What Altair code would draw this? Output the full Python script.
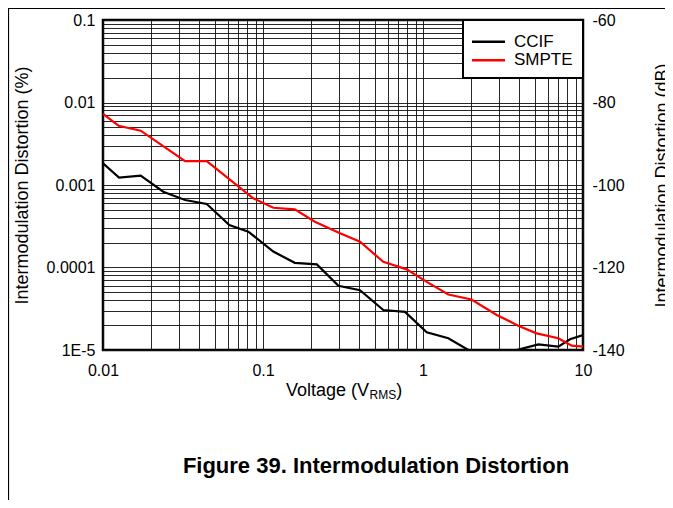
import altair as alt
import pandas as pd

# ---- data ----
series_names = ["CCIF", "SMPTE"]
series_colors = ["#000000", "#ff0000"]

ccif_v = [0.01, 0.0126, 0.0172, 0.0238, 0.0326, 0.0445, 0.0616, 0.081, 0.116, 0.158,
          0.217, 0.296, 0.404, 0.565, 0.772, 1.055, 1.44, 1.92, 2.5, 3.2, 3.85,
          5.26, 7.01, 8.3, 10]
ccif_d = [0.00183, 0.00123, 0.0013, 0.00083, 0.000658, 0.000589, 0.000327, 0.000272,
          0.000156, 0.000114, 0.000109, 6.0e-5, 5.3e-5, 3.05e-5, 2.9e-5, 1.64e-5,
          1.39e-5, 1.0e-5, 8.5e-6, 8.5e-6, 1.0e-5, 1.17e-5, 1.1e-5, 1.35e-5, 1.52e-5]

smpte_v = [0.01, 0.0125, 0.0172, 0.0326, 0.0445, 0.0869, 0.116, 0.158, 0.211, 0.303,
           0.404, 0.565, 0.79, 1.055, 1.44, 2.01, 2.89, 3.94, 5.13, 7.01, 8.5, 10]
smpte_d = [0.00726, 0.00523, 0.00455, 0.00195, 0.00195, 0.00069, 0.00053, 0.000507,
           0.000359, 0.00026, 0.000205, 0.000117, 0.000095, 6.7e-5, 4.7e-5, 4.1e-5,
           2.66e-5, 1.97e-5, 1.59e-5, 1.39e-5, 1.13e-5, 1.1e-5]

x_domain = [0.01, 10]
y_domain = [1e-5, 0.1]
db_domain = [-140, -60]
db_ticks = [-140, -120, -100, -80, -60]
x_grid = [k * 10.0 ** e for e in (-2, -1, 0) for k in range(1, 10)] + [10]
y_grid = [k * 10.0 ** e for e in (-5, -4, -3, -2) for k in range(1, 10)] + [0.1]

x_title_main = "Voltage (V"
x_title_sub = "RMS"
x_title_end = ")"
y_title_left = "Intermodulation Distortion (%)"
y_title_right = "Intermodulation Distortion (dB)"
caption = "Figure 39. Intermodulation Distortion"

df = pd.concat([
    pd.DataFrame({"voltage": ccif_v, "imd": ccif_d, "series": series_names[0]}),
    pd.DataFrame({"voltage": smpte_v, "imd": smpte_d, "series": series_names[1]}),
], ignore_index=True)
one = pd.DataFrame({"a": [0]})

FONT = "Liberation Sans"
decade = "abs(log(datum.value)/LN10 - round(log(datum.value)/LN10)) < 0.001"

x_enc = alt.X(
    "voltage:Q",
    scale=alt.Scale(type="log", domain=x_domain, nice=False),
    axis=alt.Axis(values=x_grid, labelExpr=f"{decade} ? format(datum.value, '~g') : ''",
                  title=None, grid=True, ticks=False, domain=False, labelPadding=12,
                  labelFlush=False, labelOverlap=False),
)

lines = alt.Chart(df).mark_line(clip=True, strokeWidth=2.2).encode(
    x=x_enc,
    y=alt.Y(
        "imd:Q",
        scale=alt.Scale(type="log", domain=y_domain, nice=False),
        axis=alt.Axis(values=y_grid,
                      labelExpr=f"datum.value < 2e-5 ? '1E-5' : ({decade} ? format(datum.value, '~g') : '')",
                      title=y_title_left, grid=True, ticks=False, domain=False,
                      labelPadding=8, labelFlush=False, labelOverlap=False,
                      titlePadding=15),
    ),
    color=alt.Color("series:N", scale=alt.Scale(domain=series_names, range=series_colors),
                    legend=None),
)

db_layer = alt.Chart(df).transform_calculate(
    db="20*log(datum.imd/100)/LN10"
).mark_line(opacity=0).encode(
    x=x_enc,
    y=alt.Y("db:Q", scale=alt.Scale(domain=db_domain, nice=False),
            axis=alt.Axis(orient="right", values=db_ticks, title=y_title_right,
                          labelExpr="toString(datum.value)",
                          grid=False, ticks=False, domain=False, labelPadding=9,
                          labelFlush=False, titleAngle=270, titleBaseline="top",
                          titlePadding=29)),
    detail="series:N",
)

legend_box = alt.Chart(one).mark_rect(fill="white", stroke="black", strokeWidth=2).encode(
    x=alt.value(360), x2=alt.value(480), y=alt.value(0), y2=alt.value(58))

legend_layers = [legend_box]
for i, (name, col) in enumerate(zip(series_names, series_colors)):
    yy = 21.7 + i * 18.5
    legend_layers.append(alt.Chart(one).mark_rule(color=col, strokeWidth=2.5).encode(
        x=alt.value(369), x2=alt.value(402), y=alt.value(yy)))
    legend_layers.append(alt.Chart(one).mark_text(
        align="left", baseline="middle", font=FONT, fontSize=17, color="black").encode(
        x=alt.value(411), y=alt.value(yy), text=alt.value(name)))

title_main = alt.Chart(one).mark_text(align="right", baseline="alphabetic", font=FONT,
                                      fontSize=18, color="black").encode(
    x=alt.value(266), y=alt.value(376), text=alt.value(x_title_main))
title_sub = alt.Chart(one).mark_text(align="left", baseline="alphabetic", font=FONT,
                                     fontSize=12, color="black").encode(
    x=alt.value(266.5), y=alt.value(379), text=alt.value(x_title_sub))
title_end = alt.Chart(one).mark_text(align="left", baseline="alphabetic", font=FONT,
                                     fontSize=18, color="black").encode(
    x=alt.value(293.2), y=alt.value(376), text=alt.value(x_title_end))

cap = alt.Chart(one).mark_text(align="center", baseline="middle", font=FONT,
                               fontSize=22, fontWeight="bold", color="black").encode(
    x=alt.value(273), y=alt.value(446), text=alt.value(caption))

frame_left = alt.Chart(one).mark_rule(color="black", strokeWidth=1.2).encode(
    x=alt.value(-94.5), y=alt.value(-12), y2=alt.value(480))
frame_top = alt.Chart(one).mark_rule(color="black", strokeWidth=1.2).encode(
    x=alt.value(-95), x2=alt.value(570), y=alt.value(-11.5))

chart = alt.layer(
    lines, db_layer, *legend_layers, title_main, title_sub, title_end, cap,
    frame_left, frame_top,
).resolve_scale(y="independent").properties(
    width=480, height=330,
    autosize=alt.AutoSizeParams(type="none"),
    padding={"left": 95, "top": 12, "right": 82, "bottom": 150},
).configure_view(
    stroke="black", strokeWidth=2.5
).configure_axis(
    labelFont=FONT, labelFontSize=16, labelColor="black",
    titleFont=FONT, titleFontSize=18, titleColor="black", titleFontWeight="normal",
    gridColor="#111111", gridWidth=1, gridOpacity=0.9,
)

chart.save("out.html", embed_options={"renderer": "svg", "actions": False})
